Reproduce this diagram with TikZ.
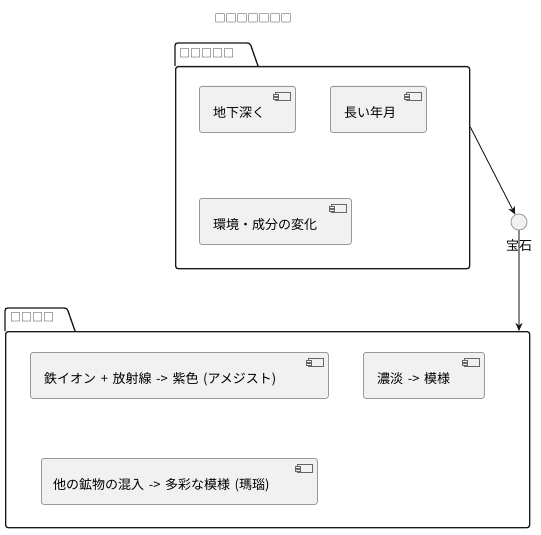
\documentclass[tikz,border=0pt]{standalone}
\usepackage{fontspec}
\newfontfamily\cjk{Noto Sans CJK JP}
\usetikzlibrary{arrows.meta,calc}
\definecolor{pkgline}{HTML}{181818}
\definecolor{compfill}{HTML}{F1F1F1}
\definecolor{compline}{HTML}{999999}
\definecolor{iconline}{HTML}{666666}
\definecolor{stem}{HTML}{8A8A8A}
\newcommand{\lblfont}{\cjk\fontsize{13}{15}\selectfont\spaceskip 4.6pt\relax}
\newcommand{\compicon}[1]{%
  \draw[iconline,fill=compfill,line width=0.7pt] ($(#1.north east)+(-20,6)$) rectangle ($(#1.north east)+(-5,14)$);
  \draw[iconline,fill=compfill,line width=0.6pt] ($(#1.north east)+(-22.5,8)$) rectangle ($(#1.north east)+(-17.5,10)$);
  \draw[iconline,fill=compfill,line width=0.6pt] ($(#1.north east)+(-22.5,11)$) rectangle ($(#1.north east)+(-17.5,13)$);
}
\begin{document}
\begin{tikzpicture}[x=1pt,y=-1pt,
  comp/.style={draw=compline,fill=compfill,rounded corners=2.5pt,line width=0.8pt,anchor=north west,inner sep=0pt},
  pkgbody/.style={draw=pkgline,line width=1.3pt,rounded corners=2.5pt,anchor=north west,inner sep=0pt},
  pkgtab/.style={draw=pkgline,line width=1.3pt,rounded corners=2.5pt},
  lbl/.style={font=\lblfont,anchor=west,inner sep=0pt},
  tofu/.style={font=\cjk\fontsize{11}{13}\selectfont,inner sep=0pt,text=black!85},
  conn/.style={pkgline,line width=0.9pt,-{Stealth[length=8pt,width=7pt,inset=2.5pt]}},
]
\useasboundingbox (0,0) rectangle (541,535);
\fill[white] (0,0) rectangle (541,535);

% title
\node[tofu] (title) at (253,18) {□□□□□□□};

% package 1
\draw[pkgtab] (175,66) -- (175,43) -- (250,43) -- (258,66);
\node[pkgbody,minimum width=294pt,minimum height=202pt] (pkgA) at (175,66) {};
\node[tofu,anchor=west] (pkgAname) at (179,53) {□□□□□};

\node[comp,minimum width=96pt,minimum height=46pt] (a1) at (199,86) {};
\compicon{a1}
\node[lbl] (a1t) at ($(a1.north west)+(14,27)$) {地下深く};

\node[comp,minimum width=96pt,minimum height=46pt] (a2) at (330,86) {};
\compicon{a2}
\node[lbl] (a2t) at ($(a2.north west)+(14,27)$) {長い年月};

\node[comp,minimum width=152pt,minimum height=46pt] (a3) at (199,198) {};
\compicon{a3}
\node[lbl] (a3t) at ($(a3.north west)+(14,27)$) {環境・成分の変化};

% package 2
\draw[pkgtab] (5,331) -- (5,308) -- (67,308) -- (75,331);
\node[pkgbody,minimum width=524pt,minimum height=196pt] (pkgB) at (5,331) {};
\node[tofu,anchor=west] (pkgBname) at (10,317) {□□□□};

\node[comp,minimum width=298pt,minimum height=46pt] (b1) at (30,352) {};
\compicon{b1}
\node[lbl] (b1t) at ($(b1.north west)+(14,27)$) {鉄イオン + 放射線 -> 紫色 (アメジスト)};

\node[comp,minimum width=121pt,minimum height=46pt] (b2) at (363,352) {};
\compicon{b2}
\node[lbl] (b2t) at ($(b2.north west)+(14,27)$) {濃淡 -> 模様};

\node[comp,minimum width=276pt,minimum height=46pt] (b3) at (41,458) {};
\compicon{b3}
\node[lbl] (b3t) at ($(b3.north west)+(12,27)$) {他の鉱物の混入 -> 多彩な模様 (瑪瑙)};

% interface
\node[circle,draw=compline,fill=compfill,line width=0.8pt,minimum size=16pt,inner sep=0pt] (gem) at (519,222) {};

\coordinate (aout) at ($(pkgA.north east)!0.3!(pkgA.south east)$);
\draw[conn] (aout) -- (gem);
\draw[stem,line width=1.2pt,-{Stealth[length=8pt,width=7pt,inset=2.5pt,color=pkgline]}] (gem) -- (gem |- pkgB.north);
\node[lbl,anchor=center] (gemlbl) at (519,246) {宝石};
\end{tikzpicture}
\end{document}
